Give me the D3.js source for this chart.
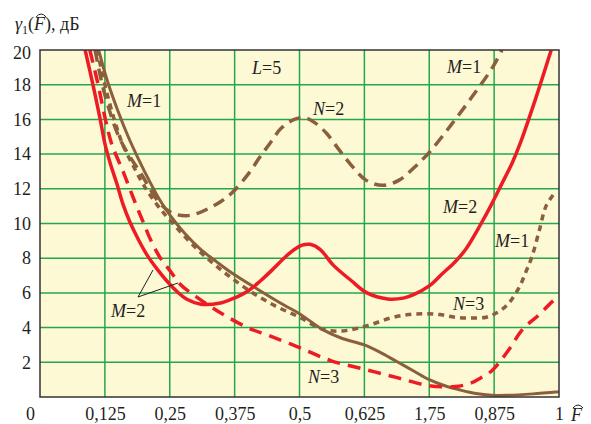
<!DOCTYPE html>
<html>
<head>
<meta charset="utf-8">
<script src="https://cdn.jsdelivr.net/npm/d3@7"></script>
<style>
  body { margin: 0; background: #fff; }
  text { font-family: "Liberation Serif", "Times New Roman", "DejaVu Serif", serif; fill: #231f20; }
</style>
</head>
<body>
<div id="chart"></div>
<script>
// ticks
var xTicks = [0, 0.125, 0.25, 0.375, 0.5, 0.625, 0.75, 0.875, 1];
var xTickLabels = ["0", "0,125", "0,25", "0,375", "0,5", "0,625", "1,75", "0,875", "1"];
var yTicks = [2, 4, 6, 8, 10, 12, 14, 16, 18, 20];

// curves: [F, gamma dB]
var brownSolid = [[0.113,20],[0.13,18.2],[0.15,16.5],[0.17,15.0],[0.19,13.7],[0.21,12.5],[0.23,11.4],
  [0.25,10.5],[0.28,9.4],[0.31,8.5],[0.34,7.8],[0.372,7.1],[0.42,6.2],[0.47,5.3],[0.5,4.8],[0.544,3.9],
  [0.58,3.4],[0.625,3.0],[0.66,2.5],[0.69,2.0],[0.72,1.5],[0.75,1.0],[0.78,0.65],[0.81,0.4],[0.84,0.2],
  [0.87,0.1],[0.9,0.1],[0.95,0.18],[1.0,0.3]];

var redSolid = [[0.087,20],[0.102,18],[0.116,16],[0.125,14.6],[0.135,13.5],[0.148,12.3],[0.16,11.1],
  [0.173,10.1],[0.19,9.05],[0.207,8.15],[0.225,7.4],[0.244,6.7],[0.265,6.05],[0.282,5.65],[0.31,5.35],
  [0.345,5.4],[0.37,5.65],[0.4,6.1],[0.425,6.7],[0.45,7.4],[0.47,8.0],[0.49,8.5],[0.505,8.75],[0.52,8.8],
  [0.54,8.5],[0.565,7.6],[0.6,6.7],[0.63,6.0],[0.67,5.65],[0.7,5.7],[0.72,5.9],[0.75,6.4],[0.775,7.1],
  [0.8,7.8],[0.82,8.5],[0.85,10.0],[0.87,11.1],[0.89,12.3],[0.91,13.5],[0.925,14.6],[0.955,17.2],[0.985,20]];

var redDashed = [[0.096,20],[0.112,18],[0.126,16],[0.138,14.6],[0.16,13.0],[0.173,12.0],[0.186,11.0],
  [0.2,10.0],[0.211,9.2],[0.23,8.1],[0.25,7.3],[0.27,6.5],[0.3,5.8],[0.345,4.9],[0.4,4.0],[0.44,3.55],
  [0.5,2.85],[0.56,2.1],[0.625,1.6],[0.69,1.1],[0.75,0.65],[0.8,0.6],[0.83,0.8],[0.852,1.15],[0.87,1.5],
  [0.885,2.0],[0.905,2.8],[0.93,3.9],[0.96,4.7],[0.987,5.5],[1.0,5.8]];

var brownDashed = [[0.106,20],[0.12,18],[0.135,16.4],[0.152,15],[0.17,14],[0.192,13.0],[0.21,12.1],
  [0.23,11.2],[0.255,10.6],[0.282,10.45],[0.305,10.6],[0.327,10.9],[0.35,11.3],[0.371,11.8],[0.4,12.8],
  [0.423,13.8],[0.445,14.7],[0.465,15.5],[0.49,16.0],[0.51,16.1],[0.53,15.8],[0.552,15.2],[0.575,14.3],
  [0.596,13.5],[0.628,12.5],[0.66,12.2],[0.692,12.5],[0.72,13.2],[0.75,14.1],[0.79,15.6],[0.83,17.2],
  [0.872,19.0],[0.89,20]];

var brownDotted = [[0.11,20],[0.125,18],[0.143,16],[0.16,14.5],[0.18,13.3],[0.2,12.2],[0.225,11.1],
  [0.25,10.2],[0.3,8.6],[0.35,7.3],[0.4,6.2],[0.45,5.3],[0.5,4.6],[0.545,3.9],[0.58,3.8],[0.61,3.95],
  [0.64,4.2],[0.675,4.55],[0.71,4.75],[0.74,4.8],[0.77,4.75],[0.8,4.6],[0.83,4.55],[0.86,4.6],[0.88,4.85],
  [0.9,5.3],[0.923,6.3],[0.936,7.2],[0.948,8.1],[0.962,9.6],[0.975,11.0],[0.99,11.7]];

var brown = "#8b5e3c", red = "#ed1c24";

var width = 591, height = 424;
var margin = {top: 50, right: 32, bottom: 27, left: 40};

var svg = d3.select("#chart").append("svg")
    .attr("width", width)
    .attr("height", height)
    .attr("font-family", "Liberation Serif, serif");

var x = d3.scaleLinear().domain([0, 1]).range([margin.left, width - margin.right]);
var y = d3.scaleLinear().domain([0, 20]).range([height - margin.bottom, margin.top]);

// background
svg.append("rect")
  .attr("x", x(0)).attr("y", y(20))
  .attr("width", x(1) - x(0)).attr("height", y(0) - y(20))
  .attr("fill", "#fef9d5");

svg.append("clipPath").attr("id", "clip")
  .append("rect")
  .attr("x", x(0)).attr("y", y(20))
  .attr("width", x(1) - x(0)).attr("height", y(0) - y(20));

// grid
svg.append("g").selectAll("line")
  .data(xTicks.slice(1, -1))
  .enter().append("line")
    .attr("x1", function(d) { return x(d); }).attr("x2", function(d) { return x(d); })
    .attr("y1", y(0)).attr("y2", y(20))
    .attr("stroke", "#22a84a").attr("stroke-width", 1.5);

svg.append("g").selectAll("line")
  .data(yTicks.slice(0, -1))
  .enter().append("line")
    .attr("y1", function(d) { return y(d); }).attr("y2", function(d) { return y(d); })
    .attr("x1", x(0)).attr("x2", x(1))
    .attr("stroke", "#22a84a").attr("stroke-width", 1.5);

// curves
var line = d3.line()
  .x(function(d) { return x(d[0]); })
  .y(function(d) { return y(d[1]); })
  .curve(d3.curveCatmullRom.alpha(0.5));

var curves = [
  {data: brownSolid, color: brown, width: 3, dash: null},
  {data: brownDashed, color: brown, width: 3.5, dash: "12,7"},
  {data: brownDotted, color: brown, width: 3.5, dash: "6,5"},
  {data: redDashed, color: red, width: 3.5, dash: "13,8"},
  {data: redSolid, color: red, width: 3.5, dash: null}
];

svg.append("g").attr("clip-path", "url(#clip)")
  .selectAll("path")
  .data(curves)
  .enter().append("path")
    .attr("d", function(d) { return line(d.data); })
    .attr("fill", "none")
    .attr("stroke", function(d) { return d.color; })
    .attr("stroke-width", function(d) { return d.width; })
    .attr("stroke-dasharray", function(d) { return d.dash; });

// frame
svg.append("rect")
  .attr("x", x(0)).attr("y", y(20))
  .attr("width", x(1) - x(0)).attr("height", y(0) - y(20))
  .attr("fill", "none").attr("stroke", "#333").attr("stroke-width", 1.5);

// axes
var xAxis = svg.append("g")
  .attr("transform", "translate(0," + y(0) + ")")
  .call(d3.axisBottom(x).tickValues(xTicks).tickSize(0).tickPadding(10)
    .tickFormat(function(d, i) { return xTickLabels[i]; }));
xAxis.attr("font-family", null);
xAxis.select(".domain").remove();
xAxis.selectAll("text").style("font-size", "18px").attr("fill", "#231f20");
xAxis.selectAll("text").filter(function(d) { return d === 0; }).attr("x", -10);

var yAxis = svg.append("g")
  .attr("transform", "translate(" + x(0) + ",0)")
  .call(d3.axisLeft(y).tickValues(yTicks).tickSize(0).tickPadding(9));
yAxis.attr("font-family", null);
yAxis.select(".domain").remove();
yAxis.selectAll("text").style("font-size", "18px").attr("fill", "#231f20");
yAxis.selectAll("text").filter(function(d) { return d === 20; }).attr("dy", "0.45em");

// hat over an F
function hat(textNode, idx) {
  var r = textNode.getExtentOfChar(idx);
  var x0 = r.x + 2, x1 = r.x + r.width + 1, yy = r.y + 3;
  svg.append("path")
    .attr("d", "M" + x0 + "," + yy + " Q" + ((x0 + x1) / 2) + "," + (yy - 6) + " " + x1 + "," + yy)
    .attr("fill", "none").attr("stroke", "#231f20").attr("stroke-width", 1);
}

// title
var title = svg.append("text").attr("x", 15).attr("y", 30).style("font-size", "18px");
title.append("tspan").style("font-style", "italic").text("γ");
title.append("tspan").attr("dy", 4).style("font-size", "12px").text("1");
title.append("tspan").attr("dy", -4).text("(");
title.append("tspan").style("font-style", "italic").text("F");
title.append("tspan").text("), дБ");
hat(title.node(), 3);

// x label
var xl = svg.append("text").attr("x", 571).attr("y", 421)
  .style("font-size", "18px").style("font-style", "italic").text("F");
hat(xl.node(), 0);

// annotations
var labels = [
  {v: "L", n: "5", x: 252, y: 74},
  {v: "M", n: "1", x: 127, y: 107},
  {v: "N", n: "2", x: 313, y: 115},
  {v: "M", n: "1", x: 447, y: 73},
  {v: "M", n: "2", x: 443, y: 213},
  {v: "M", n: "1", x: 495, y: 247},
  {v: "N", n: "3", x: 453, y: 310},
  {v: "N", n: "3", x: 308, y: 383},
  {v: "M", n: "2", x: 111, y: 317}
];
labels.forEach(function(l) {
  var t = svg.append("text").attr("x", l.x).attr("y", l.y).style("font-size", "18px");
  t.append("tspan").style("font-style", "italic").text(l.v);
  t.append("tspan").text("=" + l.n);
});

// leader lines for M=2
svg.append("line").attr("x1", 138).attr("y1", 297).attr("x2", 153).attr("y2", 270)
  .attr("stroke", "#231f20").attr("stroke-width", 1);
svg.append("line").attr("x1", 138).attr("y1", 297).attr("x2", 178).attr("y2", 283)
  .attr("stroke", "#231f20").attr("stroke-width", 1);
</script>
</body>
</html>
